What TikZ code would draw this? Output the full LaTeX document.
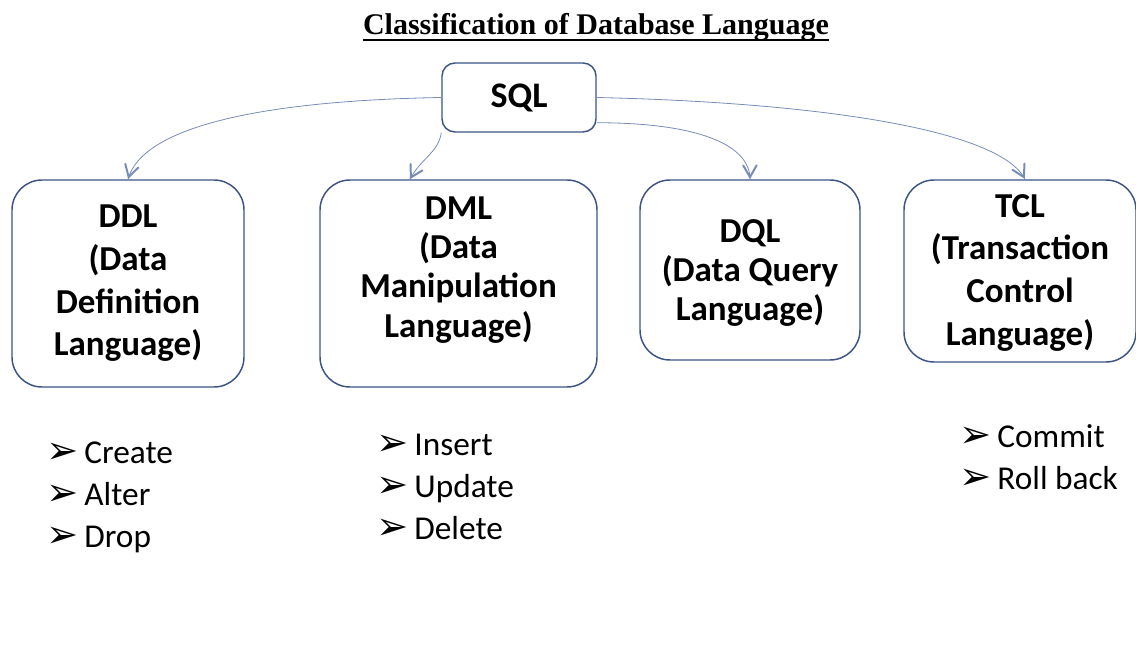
\documentclass[tikz,border=0pt]{standalone}
\usepackage{fontspec}
\setmainfont{Carlito}
\newfontfamily\titlefont{Liberation Serif}
\newfontfamily\tipfont{DejaVu Sans}[Scale=1.15]
\usepackage{tikz}
\usetikzlibrary{arrows}
\usetikzlibrary{decorations.markings}
\usetikzlibrary{positioning}
\tikzset{->/.style = {decoration={markings,
                                  mark=at position 0.999 with {\arrow[scale=2.5]{angle 60}}},
                      postaction={decorate}}}
\definecolor{mblue}{rgb}{0.23, 0.33, 0.52}
\definecolor{mgray}{rgb}{0.47, 0.55, 0.72}
\tikzset{lang/.style = {draw=mblue, line width=1.1pt, rounded corners=22.5pt, fill=white,
                        align=center, inner sep=0pt,
                        font=\fontsize{26.25}{32}\selectfont\bfseries}}
\tikzset{cmds/.style = {anchor=west, align=left, inner sep=0pt,
                        font=\fontsize{25}{31.5}\selectfont}}
\tikzset{link/.style = {mgray, line width=0.6pt}}
\newcommand{\itm}{{\tipfont ➢}\hspace{4.5pt}}

\begin{document}
\begin{tikzpicture}[x=0.75pt, y=0.75pt]
    \useasboundingbox (0, 0) rectangle (1136, 646);
    \node [anchor=base, inner sep=0pt, font=\titlefont\fontsize{22.5}{27}\selectfont\bfseries]
      (ttl) at (596, 611) {Classification of Database Language};
    \draw [line width=1.5pt] ([yshift=-3.75pt]ttl.base west) -- ([yshift=-3.75pt]ttl.base east);

    \node [lang, rounded corners=9.75pt, minimum width=115.5pt, minimum height=51.75pt,
           font=\fontsize{27}{32}\selectfont\bfseries] (sql) at (519, 548.5) {SQL};
    \node [lang, minimum width=174pt, minimum height=155.25pt] (ddl) at (128, 362.5)
      {DDL\\(Data\\Definition\\Language)};
    \node [lang, minimum width=207.75pt, minimum height=155.25pt, text depth=25pt,
           font=\fontsize{26.25}{29.5}\selectfont\bfseries] (dml) at (458.5, 362.5)
      {DML\\(Data\\Manipulation\\Language)};
    \node [lang, minimum width=165pt, minimum height=135pt, text depth=-15pt,
           font=\fontsize{26.25}{29.5}\selectfont\bfseries] (dql) at (750, 376)
      {DQL\\(Data Query\\Language)};
    \node [lang, minimum width=174pt, minimum height=136.5pt, text depth=2pt] (tcl) at (1020, 375)
      {TCL\\(Transaction\\Control\\Language)};

    \draw [->, link] (sql.west) .. controls +(-170, -3) and +(15, 55) .. (ddl.north);
    \draw [->, link] (sql.south west) .. controls +(-3, -20) and +(12, 22) .. (dml.115);
    \draw [->, link] (sql.-18) .. controls +(100, 0) and +(0, 35) .. (dql.north);
    \draw [->, link] (sql.east) .. controls +(220, -5) and +(-25, 50) .. ([xshift=3.75pt]tcl.north);

    \node [cmds] (ddlcmd) at (46, 149) {\itm Create\\\itm Alter\\\itm Drop};
    \node [cmds] (dmlcmd) at (376, 159) {\itm Insert\\\itm Update\\\itm Delete};
    \node [cmds] (tclcmd) at (959, 189) {\itm Commit\\\itm Roll back};
\end{tikzpicture}
\end{document}
